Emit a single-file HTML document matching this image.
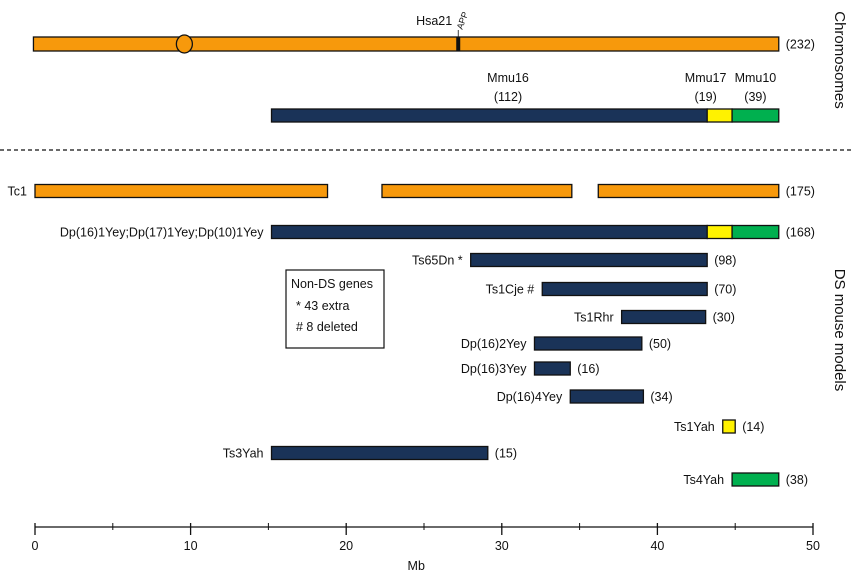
<!DOCTYPE html>
<html><head><meta charset="utf-8">
<style>
html,body{margin:0;padding:0;background:#fff;}
svg{display:block;font-family:"Liberation Sans",sans-serif;}
text{font-size:12.5px;fill:#111;}
</style></head>
<body>
<svg id="c" width="851" height="574">
<line x1="0" y1="150" x2="851" y2="150" stroke="#111" stroke-width="1.3" stroke-dasharray="4,3"/>
<text x="835" y="60" transform="rotate(90 835 60)" text-anchor="middle" style="font-size:15px">Chromosomes</text>
<text x="835" y="330" transform="rotate(90 835 330)" text-anchor="middle" style="font-size:15px">DS mouse models</text>
<g>
<rect x="286" y="270" width="98" height="78" fill="#fff" stroke="#111" stroke-width="1.2"/>
<text x="291" y="288">Non-DS genes</text>
<text x="296" y="310">* 43 extra</text>
<text x="296" y="331"># 8 deleted</text>
</g>
</svg>
<script>
const names=["Hsa21","Mmu16","Tc1","Dp(16)1Yey;Dp(17)1Yey;Dp(10)1Yey","Ts65Dn *","Ts1Cje  #","Ts1Rhr","Dp(16)2Yey","Dp(16)3Yey","Dp(16)4Yey","Ts1Yah","Ts3Yah","Ts4Yah"];
const counts=["(232)","","(175)","(168)","(98)","(70)","(30)","(50)","(16)","(34)","(14)","(15)","(38)"];
const rowY=[44,115.5,191,232,260,289,317,343.5,368.5,396.5,426.5,453,479.5];
// segments: [rowIndex, startMb, endMb, color]
const segRow=[0,1,1,1,2,2,2,3,3,3,4,5,6,7,8,9,10,11,12];
const segStart=[-0.1,15.2,43.2,44.8,0,22.3,36.2,15.2,43.2,44.8,28.0,32.6,37.7,32.1,32.1,34.4,44.2,15.2,44.8];
const segEnd=[47.8,43.2,44.8,47.8,18.8,34.5,47.8,43.2,44.8,47.8,43.2,43.2,43.1,39.0,34.4,39.1,45.0,29.1,47.8];
const segColor=["o","n","y","g","o","o","o","n","y","g","n","n","n","n","n","n","y","n","g"];
const ticks=[0,10,20,30,40,50];
const minorTicks=[5,15,25,35,45];
const centromereMb=9.6, appMb=27.2;
const cols={o:"#f7990c",n:"#1a3358",y:"#fff200",g:"#00b04f"};
const svg=document.getElementById('c');
const NS="http://www.w3.org/2000/svg";
const X=mb=>35+mb*15.56;
function el(t,a,txt){const e=document.createElementNS(NS,t);for(const k in a)e.setAttribute(k,a[k]);if(txt!==undefined)e.textContent=txt;svg.appendChild(e);return e;}
const rowMin={},rowMax={};
segRow.forEach((r,i)=>{
 const h=(r===0)?14:13;
 const e=el('rect',{x:X(segStart[i]),y:rowY[r]-h/2,width:X(segEnd[i])-X(segStart[i]),height:h,fill:cols[segColor[i]],stroke:"#111","stroke-width":1.3});
 
 
 rowMin[r]=Math.min(rowMin[r]??1e9,X(segStart[i]));rowMax[r]=Math.max(rowMax[r]??-1e9,X(segEnd[i]));
});
// centromere & APP
let c=el('ellipse',{cx:X(centromereMb),cy:rowY[0],rx:8,ry:9,fill:cols.o,stroke:"#111","stroke-width":1.3});


let a=el('rect',{x:X(appMb)-2,y:rowY[0]-7,width:4,height:14,fill:"#111"});


el('line',{x1:X(appMb),y1:rowY[0]-7,x2:X(appMb),y2:rowY[0]-14,stroke:"#111","stroke-width":0.8});
let at=el('text',{x:X(appMb)+4,y:rowY[0]-14,transform:`rotate(-70 ${X(appMb)+4} ${rowY[0]-14})`,style:"font-size:9px"},"APP");


// chromosome labels
let h=el('text',{x:X(appMb)-6,y:25,"text-anchor":"end"},"Hsa21");


[["Mmu16",X(30.4),"(112)"],["Mmu17",X(43.1),"(19)"],["Mmu10",X(46.3),"(39)"]].forEach(([n,x,cnt])=>{
 const t=el('text',{x:x,y:82,"text-anchor":"middle"},n);
 
 
 const t2=el('text',{x:x,y:101,"text-anchor":"middle"},cnt);
 
 
});
// row labels and counts
rowY.forEach((y,r)=>{
 if(r>=2){
  const t=el('text',{x:rowMin[r]-8,y:y+4.5,"text-anchor":"end"},names[r]);
  
  
 }
 if(counts[r]){
  const t=el('text',{x:rowMax[r]+7,y:y+4.5},counts[r]);
  
  
 }
});
// axis
const ay=527;
let ax=el('line',{x1:X(0),y1:ay,x2:X(50),y2:ay,stroke:"#111","stroke-width":1.3});


ticks.forEach(v=>{
 el('line',{x1:X(v),y1:ay-4,x2:X(v),y2:ay+8,stroke:"#111","stroke-width":1.3});
 const t=el('text',{x:X(v),y:ay+23,"text-anchor":"middle"},String(v));
 
 
});
minorTicks.forEach(v=>el('line',{x1:X(v),y1:ay-4,x2:X(v),y2:ay+3,stroke:"#111","stroke-width":1}));
let xt=el('text',{x:X(24.5),y:ay+43,"text-anchor":"middle"},"Mb");


</script>
</body></html>
